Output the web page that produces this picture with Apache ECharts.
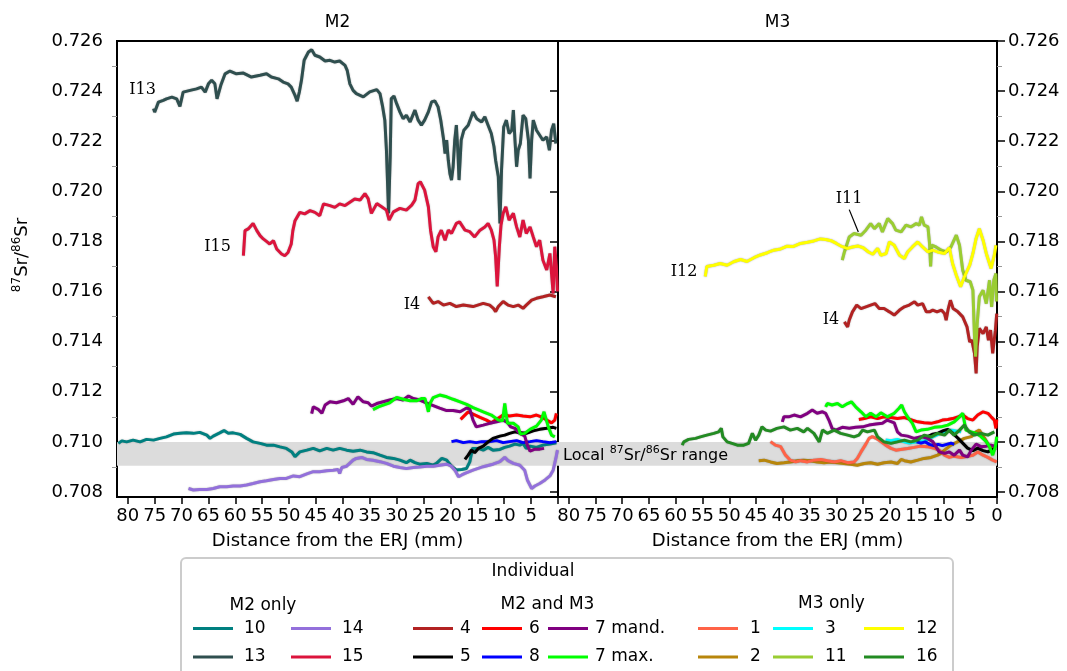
<!DOCTYPE html>
<html><head><meta charset="utf-8">
<script src="https://cdn.jsdelivr.net/npm/echarts@6/dist/echarts.min.js"></script>
<style>html,body{margin:0;padding:0;background:#fff}#c{width:1067px;height:671px}</style>
</head><body><div id="c"></div>
<script>
// ---------- tick labels ----------
const xTicks = [80,75,70,65,60,55,50,45,40,35,30,25,20,15,10,5,0];
const xLabelsM2 = [80,75,70,65,60,55,50,45,40,35,30,25,20,15,10,5];
const xLabelsM3 = [80,75,70,65,60,55,50,45,40,35,30,25,20,15,10,5,0];
const yTicks = [0.708,0.710,0.712,0.714,0.716,0.718,0.720,0.722,0.724,0.726];
const yMinorTicks = [0.709,0.711,0.713,0.715,0.717,0.719,0.721,0.723,0.725];
const localRange = [0.70905, 0.7100];

// ---------- M2 series: [distance from ERJ (mm), 87Sr/86Sr] ----------
const m2_13 = [[75.2,0.72330],[75.0,0.72316],[74.3,0.72356],[73.4,0.72363],[72.8,0.72369],[71.8,0.72376],[70.9,0.72369],[70.3,0.72339],[69.7,0.72396],[68.4,0.72403],[67.2,0.72409],[66.3,0.72416],[65.6,0.72396],[65.0,0.72429],[64.4,0.72443],[63.8,0.72429],[63.4,0.72369],[62.7,0.72423],[61.9,0.72469],[61.0,0.72480],[59.8,0.72469],[58.5,0.72472],[57.0,0.72456],[55.4,0.72463],[54.2,0.72469],[53.3,0.72456],[52.0,0.72449],[51.1,0.72436],[50.2,0.72429],[49.6,0.72416],[48.9,0.72383],[48.5,0.72360],[48.1,0.72396],[47.7,0.72443],[47.2,0.72523],[46.4,0.72556],[45.8,0.72565],[45.2,0.72543],[44.3,0.72536],[43.3,0.72520],[42.4,0.72523],[41.5,0.72516],[40.6,0.72520],[39.6,0.72503],[39.2,0.72483],[38.7,0.72429],[38.1,0.72403],[37.5,0.72390],[36.2,0.72377],[35.0,0.72397],[33.7,0.72406],[33.1,0.72390],[32.6,0.72337],[32.2,0.72284],[31.9,0.72164],[31.5,0.71912],[31.2,0.72138],[31.0,0.72370],[30.5,0.72380],[30.0,0.72350],[29.4,0.72317],[28.8,0.72290],[28.2,0.72304],[27.5,0.72277],[26.6,0.72324],[26.0,0.72284],[25.4,0.72264],[24.8,0.72284],[24.1,0.72317],[23.5,0.72357],[22.9,0.72361],[22.3,0.72337],[21.8,0.72284],[21.3,0.72211],[21.0,0.72151],[20.7,0.72204],[20.4,0.72124],[20.1,0.72071],[19.8,0.72045],[19.5,0.72098],[19.2,0.72204],[18.9,0.72264],[18.6,0.72151],[18.4,0.72045],[18.0,0.72204],[17.5,0.72244],[16.7,0.72264],[15.8,0.72317],[15.1,0.72290],[14.2,0.72277],[13.6,0.72297],[13.0,0.72264],[12.4,0.72231],[11.9,0.72178],[11.6,0.72124],[11.1,0.72058],[10.8,0.71872],[10.5,0.72085],[10.1,0.72257],[9.6,0.72284],[9.1,0.72231],[8.6,0.72244],[8.3,0.72324],[8.0,0.72204],[7.7,0.72098],[7.4,0.72164],[7.0,0.72191],[6.5,0.72304],[6.0,0.72290],[5.5,0.72204],[5.2,0.72051],[4.9,0.72204],[4.6,0.72284],[4.0,0.72244],[3.4,0.72224],[2.8,0.72204],[2.1,0.72217],[1.6,0.72164],[1.2,0.72244],[0.8,0.72270],[0.4,0.72191]];
const m2_15 = [[58.5,0.71743],[58.2,0.71843],[57.6,0.71850],[56.7,0.71872],[56.0,0.71843],[55.4,0.71823],[54.8,0.71810],[54.2,0.71800],[53.6,0.71790],[52.9,0.71803],[52.3,0.71770],[51.4,0.71750],[50.8,0.71743],[50.2,0.71756],[49.6,0.71790],[49.3,0.71843],[48.9,0.71883],[48.0,0.71916],[47.1,0.71910],[46.1,0.71923],[45.2,0.71916],[44.3,0.71903],[43.6,0.71950],[42.4,0.71943],[41.5,0.71936],[40.6,0.71950],[39.6,0.71943],[38.7,0.71956],[37.8,0.71969],[36.8,0.71965],[35.9,0.71991],[35.3,0.71971],[34.7,0.71912],[33.7,0.71951],[32.8,0.71938],[31.9,0.71925],[31.4,0.71885],[30.6,0.71918],[29.4,0.71932],[28.2,0.71925],[27.2,0.71945],[26.6,0.71965],[26.0,0.72031],[25.6,0.72038],[24.8,0.72005],[24.1,0.71938],[23.7,0.71845],[23.2,0.71779],[22.7,0.71759],[22.3,0.71818],[21.7,0.71845],[21.0,0.71805],[20.4,0.71845],[19.8,0.71832],[18.9,0.71872],[18.3,0.71878],[17.3,0.71845],[16.4,0.71839],[15.5,0.71818],[14.5,0.71845],[13.6,0.71858],[13.0,0.71872],[12.4,0.71845],[11.9,0.71805],[11.6,0.71739],[11.3,0.71620],[10.9,0.71779],[10.6,0.71865],[10.2,0.71912],[9.7,0.71938],[9.1,0.71885],[8.3,0.71912],[7.7,0.71858],[7.1,0.71818],[6.5,0.71885],[5.9,0.71832],[5.2,0.71858],[4.6,0.71818],[4.0,0.71779],[3.4,0.71805],[2.8,0.71725],[2.1,0.71686],[1.5,0.71752],[1.2,0.71672],[0.9,0.71592],[0.6,0.71779],[0.3,0.71700],[0.1,0.71600]];
const m2_4 = [[24.1,0.71579],[23.2,0.71553],[22.3,0.71560],[21.3,0.71546],[20.1,0.71553],[18.9,0.71540],[17.6,0.71546],[15.8,0.71540],[13.9,0.71553],[12.7,0.71546],[12.0,0.71533],[11.6,0.71520],[11.1,0.71540],[10.2,0.71560],[9.3,0.71546],[8.3,0.71540],[7.4,0.71546],[6.5,0.71533],[5.9,0.71546],[4.9,0.71566],[4.0,0.71573],[2.8,0.71579],[1.5,0.71586],[0.4,0.71579]];
const m2_10 = [[81.75,0.70994],[81.1,0.71004],[80.2,0.71000],[79.0,0.71007],[77.7,0.71000],[76.5,0.71010],[75.2,0.71007],[74.0,0.71014],[72.8,0.71020],[71.5,0.71031],[70.3,0.71034],[69.1,0.71036],[67.8,0.71034],[66.6,0.71038],[65.3,0.71027],[64.7,0.71014],[64.1,0.71023],[62.9,0.71036],[62.1,0.71045],[61.3,0.71034],[60.4,0.71036],[59.1,0.71030],[57.9,0.71014],[56.7,0.71000],[55.4,0.70994],[54.2,0.70987],[52.9,0.70987],[51.7,0.70980],[50.5,0.70974],[49.5,0.70960],[48.9,0.70941],[48.0,0.70960],[46.7,0.70967],[45.5,0.70974],[44.3,0.70964],[43.0,0.70974],[41.8,0.70967],[40.6,0.70974],[39.3,0.70967],[38.1,0.70963],[36.8,0.70967],[35.6,0.70960],[34.4,0.70957],[33.1,0.70947],[31.9,0.70938],[30.6,0.70934],[29.4,0.70927],[28.2,0.70917],[27.5,0.70927],[26.6,0.70917],[25.7,0.70911],[24.4,0.70914],[23.2,0.70907],[22.6,0.70914],[21.6,0.70934],[20.7,0.70927],[19.8,0.70903],[18.9,0.70888],[17.9,0.70890],[17.0,0.70894],[16.4,0.70920],[15.9,0.70974],[14.8,0.70974],[13.9,0.70967],[13.0,0.70978],[12.1,0.70967],[10.8,0.70970],[9.9,0.70978],[9.0,0.70983],[8.0,0.70991],[7.1,0.70987],[6.5,0.70994],[5.9,0.70974],[5.2,0.70983],[4.0,0.70978],[2.8,0.70987],[1.5,0.70991],[0.3,0.70996]];
const m2_14 = [[68.7,0.70814],[67.8,0.70808],[66.6,0.70810],[65.3,0.70810],[64.1,0.70814],[62.9,0.70821],[61.6,0.70821],[60.4,0.70824],[59.1,0.70824],[57.9,0.70828],[56.7,0.70834],[55.4,0.70841],[54.2,0.70845],[52.9,0.70850],[51.7,0.70854],[50.5,0.70854],[49.2,0.70864],[48.0,0.70861],[46.7,0.70872],[45.5,0.70881],[44.3,0.70881],[43.0,0.70885],[41.8,0.70887],[40.9,0.70890],[40.6,0.70874],[40.2,0.70898],[39.3,0.70903],[38.1,0.70927],[37.5,0.70934],[36.5,0.70938],[35.6,0.70930],[34.4,0.70927],[33.1,0.70921],[31.9,0.70914],[30.6,0.70903],[29.4,0.70898],[28.2,0.70894],[26.9,0.70898],[25.7,0.70900],[24.4,0.70903],[23.2,0.70903],[22.0,0.70907],[20.7,0.70911],[19.8,0.70903],[19.1,0.70885],[18.5,0.70861],[17.9,0.70868],[17.3,0.70874],[15.8,0.70887],[13.9,0.70901],[12.1,0.70911],[10.8,0.70921],[9.9,0.70938],[9.3,0.70925],[8.3,0.70914],[7.1,0.70907],[6.2,0.70887],[5.7,0.70848],[4.9,0.70814],[4.3,0.70824],[3.4,0.70834],[2.4,0.70848],[1.5,0.70864],[0.9,0.70887],[0.4,0.70934],[0.1,0.70967]];
const m2_7mand = [[45.8,0.71113],[45.5,0.71140],[44.6,0.71130],[43.9,0.71114],[43.3,0.71147],[42.4,0.71160],[41.2,0.71156],[39.9,0.71164],[39.0,0.71173],[38.1,0.71150],[37.2,0.71180],[36.2,0.71160],[35.3,0.71156],[34.7,0.71143],[33.7,0.71153],[32.5,0.71160],[31.3,0.71167],[30.0,0.71173],[28.8,0.71167],[27.8,0.71183],[26.9,0.71173],[25.7,0.71167],[24.4,0.71155],[23.2,0.71145],[22.0,0.71135],[20.7,0.71125],[19.5,0.71125],[18.2,0.71120],[17.0,0.71135],[16.4,0.71131],[15.8,0.71087],[15.2,0.71060],[13.9,0.71067],[12.7,0.71074],[11.4,0.71080],[10.2,0.71087],[9.4,0.71078],[8.8,0.71060],[8.0,0.71054],[7.1,0.71034],[6.2,0.71024],[5.7,0.70987],[5.2,0.70963],[4.3,0.70971],[3.4,0.70971],[2.6,0.70974]];
const m2_7max = [[34.4,0.71129],[33.4,0.71140],[32.5,0.71147],[31.3,0.71156],[30.0,0.71177],[28.8,0.71170],[27.5,0.71164],[26.3,0.71164],[25.4,0.71173],[24.75,0.71173],[24.4,0.71147],[24.1,0.71120],[23.8,0.71153],[23.2,0.71177],[22.0,0.71187],[20.7,0.71180],[19.5,0.71170],[18.2,0.71160],[17.0,0.71150],[15.8,0.71137],[13.9,0.71120],[12.4,0.71107],[11.1,0.71087],[10.3,0.71084],[9.9,0.71153],[9.4,0.71074],[8.3,0.71074],[7.4,0.71060],[7.0,0.71031],[6.2,0.71034],[5.2,0.71050],[4.0,0.71063],[3.1,0.71087],[2.6,0.71120],[2.3,0.71114],[1.8,0.71060],[1.2,0.71027],[0.6,0.71020]];
const m2_6 = [[18.1,0.71090],[17.5,0.71103],[16.7,0.71120],[15.8,0.71111],[14.5,0.71098],[13.3,0.71087],[12.4,0.71076],[11.4,0.71090],[10.2,0.71107],[9.0,0.71103],[7.7,0.71107],[6.5,0.71103],[5.2,0.71100],[4.0,0.71107],[3.1,0.71100],[2.1,0.71087],[1.2,0.71076],[0.6,0.71087],[0.3,0.71114]];
const m2_5 = [[17.3,0.70930],[16.7,0.70947],[16.1,0.70967],[15.5,0.70957],[14.8,0.70974],[13.9,0.70983],[13.0,0.71000],[12.1,0.71014],[10.8,0.71023],[9.9,0.71027],[9.0,0.71034],[8.0,0.71040],[7.1,0.71036],[5.9,0.71034],[4.6,0.71044],[3.4,0.71050],[2.1,0.71054],[0.9,0.71058],[0.3,0.71054]];
const m2_8 = [[19.8,0.71001],[18.9,0.71005],[17.6,0.70997],[16.4,0.71001],[15.2,0.70997],[14.2,0.71001],[12.7,0.71001],[11.4,0.71005],[10.2,0.70997],[9.0,0.71001],[7.7,0.71005],[6.5,0.70997],[5.2,0.71001],[4.0,0.71005],[2.8,0.71001],[1.5,0.70997],[0.3,0.71001]];

// ---------- M3 series ----------
const m3_12 = [[54.5,0.71660],[54.2,0.71700],[52.9,0.71705],[51.7,0.71712],[50.4,0.71705],[49.2,0.71719],[47.9,0.71728],[46.7,0.71720],[45.4,0.71735],[44.2,0.71746],[42.9,0.71755],[41.7,0.71765],[40.4,0.71770],[39.2,0.71781],[38.0,0.71780],[36.7,0.71792],[35.4,0.71797],[34.2,0.71802],[33.0,0.71810],[32.0,0.71808],[31.0,0.71803],[30.0,0.71792],[29.0,0.71780],[28.0,0.71772],[27.0,0.71778],[26.0,0.71782],[25.0,0.71775],[24.0,0.71758],[23.2,0.71749],[22.3,0.71772],[21.7,0.71745],[20.7,0.71752],[20.1,0.71798],[19.2,0.71785],[18.2,0.71745],[17.3,0.71732],[16.7,0.71758],[15.8,0.71778],[14.8,0.71798],[13.9,0.71778],[12.9,0.71758],[12.0,0.71765],[11.1,0.71758],[9.8,0.71752],[8.9,0.71775],[8.3,0.71712],[7.6,0.71665],[6.8,0.71619],[6.1,0.71659],[5.1,0.71705],[4.5,0.71752],[3.9,0.71812],[3.3,0.71851],[2.6,0.71805],[2.0,0.71752],[1.1,0.71692],[0.5,0.71745],[0.2,0.71785]];
const m3_11 = [[28.9,0.71725],[28.5,0.71758],[27.6,0.71818],[26.7,0.71832],[25.4,0.71825],[24.5,0.71845],[23.6,0.71871],[22.9,0.71851],[22.0,0.71871],[21.4,0.71838],[20.4,0.71891],[19.5,0.71871],[18.9,0.71845],[17.9,0.71838],[17.0,0.71865],[16.1,0.71858],[15.1,0.71871],[14.5,0.71865],[14.1,0.71898],[13.6,0.71865],[12.9,0.71858],[12.6,0.71792],[12.4,0.71700],[12.2,0.71785],[11.4,0.71778],[10.4,0.71765],[9.5,0.71758],[8.6,0.71778],[7.6,0.71825],[7.0,0.71785],[6.4,0.71685],[5.8,0.71645],[5.0,0.71639],[4.5,0.71605],[4.2,0.71419],[4.0,0.71340],[3.7,0.71472],[3.3,0.71579],[2.6,0.71605],[2.0,0.71552],[1.4,0.71645],[1.0,0.71539],[0.6,0.71645],[0.2,0.71672],[0.1,0.71560]];
const m3_4 = [[28.5,0.71479],[27.9,0.71459],[27.6,0.71486],[27.0,0.71519],[26.2,0.71546],[25.4,0.71532],[24.5,0.71539],[23.6,0.71546],[22.8,0.71552],[22.0,0.71532],[21.1,0.71532],[20.1,0.71519],[19.2,0.71506],[18.2,0.71526],[17.3,0.71539],[16.4,0.71546],[15.4,0.71559],[14.8,0.71546],[13.9,0.71552],[13.2,0.71519],[12.6,0.71519],[12.0,0.71526],[11.2,0.71519],[10.4,0.71526],[9.8,0.71512],[9.5,0.71486],[9.1,0.71532],[8.7,0.71565],[8.2,0.71532],[7.3,0.71519],[6.4,0.71499],[5.6,0.71459],[5.1,0.71399],[4.7,0.71406],[4.2,0.71353],[3.9,0.71273],[3.7,0.71380],[3.3,0.71453],[2.6,0.71432],[2.0,0.71459],[1.6,0.71406],[1.2,0.71446],[0.8,0.71353],[0.3,0.71446],[0.05,0.71512]];
const m3_16 = [[58.8,0.70987],[58.5,0.71000],[57.6,0.71010],[56.3,0.71014],[55.4,0.71020],[54.2,0.71027],[52.9,0.71034],[52.0,0.71040],[51.5,0.71054],[51.2,0.71020],[50.4,0.71000],[49.5,0.70994],[48.5,0.70987],[47.3,0.70987],[46.4,0.70994],[45.7,0.71034],[45.1,0.71007],[44.5,0.71027],[43.9,0.71060],[43.2,0.71047],[42.3,0.71043],[41.1,0.71054],[39.8,0.71060],[38.6,0.71047],[37.3,0.71054],[36.1,0.71040],[35.4,0.71054],[34.2,0.71034],[33.2,0.71000],[32.6,0.71047],[31.7,0.71034],[30.4,0.71047],[29.2,0.71034],[27.9,0.71027],[26.7,0.71020],[25.8,0.71027],[25.1,0.71047],[24.2,0.71040],[22.9,0.71047],[22.3,0.71020],[21.1,0.71000],[19.8,0.70994],[18.6,0.71000],[17.3,0.71007],[16.1,0.71000],[14.8,0.71007],[13.6,0.71027],[12.3,0.71020],[11.1,0.71034],[9.8,0.71027],[8.9,0.71047],[8.0,0.71027],[7.0,0.71047],[6.1,0.71067],[5.2,0.71040],[4.2,0.71027],[3.0,0.71034],[1.7,0.71027],[0.5,0.71040]];
const m3_1 = [[42.3,0.71001],[41.4,0.70987],[40.4,0.70981],[39.5,0.70947],[38.6,0.70927],[37.6,0.70920],[36.7,0.70925],[35.4,0.70920],[34.2,0.70927],[32.9,0.70930],[31.7,0.70925],[30.4,0.70920],[29.2,0.70925],[27.9,0.70917],[26.7,0.70920],[26.1,0.70934],[25.4,0.70960],[24.5,0.70991],[23.9,0.71014],[23.3,0.71021],[22.6,0.71014],[21.7,0.71001],[20.8,0.70987],[19.8,0.70974],[18.9,0.70967],[18.0,0.70970],[16.7,0.70974],[15.5,0.70978],[14.2,0.70983],[13.0,0.70981],[11.7,0.70974],[10.8,0.70967],[9.8,0.70947],[8.9,0.70938],[8.0,0.70943],[6.7,0.70938],[5.5,0.70943],[4.5,0.70947],[3.6,0.70960],[2.6,0.70947],[1.7,0.70938],[0.8,0.70927],[0.05,0.70920]];
const m3_2 = [[44.5,0.70925],[43.5,0.70927],[42.3,0.70920],[41.1,0.70914],[39.8,0.70917],[38.6,0.70920],[37.3,0.70925],[36.1,0.70927],[34.8,0.70925],[33.6,0.70920],[32.3,0.70917],[31.1,0.70920],[29.8,0.70917],[28.6,0.70914],[27.3,0.70911],[26.1,0.70907],[24.8,0.70914],[23.6,0.70917],[22.3,0.70911],[21.1,0.70917],[19.8,0.70920],[18.6,0.70914],[17.9,0.70930],[17.3,0.70925],[16.1,0.70920],[14.8,0.70927],[13.6,0.70934],[12.3,0.70938],[11.1,0.70947],[10.5,0.70954],[9.8,0.70967],[8.6,0.70987],[7.3,0.71001],[6.1,0.71014],[4.8,0.71021],[3.9,0.71040],[3.3,0.71047],[2.3,0.71014],[1.4,0.70981],[0.5,0.70967]];
const m3_3 = [[20.8,0.71008],[19.8,0.71005],[18.6,0.71010],[17.3,0.71000],[16.4,0.70995],[15.0,0.71000],[13.5,0.71005],[12.0,0.71020],[10.5,0.71035],[9.2,0.71047],[8.0,0.71045],[6.7,0.71040]];
const m3_5 = [[13.0,0.71020],[12.0,0.71031],[11.0,0.71035],[10.0,0.71045],[9.2,0.71050],[8.3,0.71035],[7.3,0.71015],[6.4,0.70995],[5.5,0.70975],[4.5,0.70965],[3.6,0.70975],[2.6,0.70965],[1.7,0.70960],[0.8,0.70970],[0.2,0.70975]];
const m3_8 = [[15.0,0.71000],[14.2,0.70995],[13.4,0.71000],[12.6,0.70990],[11.8,0.70985],[11.0,0.70990],[10.2,0.70985],[9.4,0.70990],[8.6,0.70995],[8.0,0.70990]];
const m3_6 = [[25.8,0.71089],[24.8,0.71093],[23.6,0.71100],[22.3,0.71093],[21.1,0.71100],[19.8,0.71097],[18.6,0.71093],[17.3,0.71097],[16.1,0.71089],[14.8,0.71080],[13.6,0.71076],[12.3,0.71074],[11.1,0.71080],[10.2,0.71087],[9.2,0.71089],[8.3,0.71093],[7.3,0.71100],[6.4,0.71107],[5.5,0.71093],[4.5,0.71087],[3.6,0.71107],[2.6,0.71120],[1.7,0.71114],[1.1,0.71100],[0.5,0.71087],[0.2,0.71054],[0.05,0.71090]];
const m3_7mand = [[40.1,0.71080],[39.8,0.71100],[38.9,0.71100],[37.9,0.71107],[36.7,0.71100],[35.4,0.71114],[34.5,0.71127],[33.6,0.71114],[32.6,0.71120],[32.0,0.71114],[31.4,0.71087],[30.8,0.71054],[30.1,0.71047],[28.9,0.71058],[27.6,0.71054],[26.4,0.71058],[25.1,0.71060],[23.9,0.71067],[22.6,0.71071],[21.4,0.71074],[20.5,0.71087],[19.2,0.71076],[18.6,0.71040],[17.9,0.71027],[16.7,0.71023],[15.5,0.71014],[14.2,0.71021],[13.0,0.71014],[12.0,0.71001],[11.4,0.70981],[10.8,0.70960],[9.8,0.70954],[8.9,0.70960],[8.0,0.70947],[7.0,0.70967],[6.4,0.70947],[5.5,0.70940],[4.8,0.70967],[3.9,0.70991],[3.0,0.70981],[2.0,0.70983],[1.1,0.70987],[0.1,0.70981]];
const m3_7max = [[32.0,0.71140],[31.7,0.71153],[30.8,0.71147],[29.8,0.71153],[28.9,0.71140],[27.9,0.71153],[27.2,0.71160],[26.4,0.71140],[25.4,0.71120],[24.5,0.71100],[23.6,0.71114],[22.6,0.71100],[21.7,0.71116],[20.5,0.71100],[19.2,0.71114],[18.3,0.71134],[17.8,0.71147],[17.3,0.71120],[16.7,0.71100],[15.8,0.71074],[15.1,0.71040],[14.2,0.71047],[13.0,0.71050],[11.7,0.71058],[10.5,0.71060],[9.2,0.71067],[8.0,0.71080],[7.0,0.71100],[6.4,0.71114],[5.8,0.71047],[4.8,0.71040],[3.9,0.71034],[3.0,0.71021],[2.0,0.71001],[1.4,0.70981],[0.8,0.70947],[0.3,0.70981],[0.05,0.71021]];

// ---------- annotations [text, distance, ratio] ----------
const annotM2 = [['I13',77.26,0.72406],['I15',63.31,0.71777],['I4',27.15,0.71546]];
const annotM3 = [['I11',27.65,0.71969],['I4',31.0,0.71486],['I12',58.47,0.71677]];
const pointerI11 = [[27.6,0.71927],[25.9,0.71838]];
const localLabelPos = [81.05, 0.70951];

// ---------- legend groups ----------
const legM2only = [['10','13'],['14','15']];
const legBoth = [['4','5'],['6','8'],['7 mand.','7 max.']];
const legM3only = [['1','2'],['3','11'],['12','16']];

const colors = {'10':'#008080','13':'#2f4f4f','14':'#9370db','15':'#dc143c','4':'#b22222','5':'#000000','6':'#ff0000','8':'#0000ff','7 mand.':'#800080','7 max.':'#00ff00','1':'#ff6347','2':'#b8860b','3':'#00ffff','11':'#9acd32','12':'#ffff00','16':'#228b22'};

const FONT = 'DejaVu Sans';
const chart = echarts.init(document.getElementById('c'), null, {renderer:'canvas'});

function line(name, data, panel, z){
  return {
    type:'line', name, data, xAxisIndex: panel, yAxisIndex: panel*2,
    showSymbol:false, symbol:'none', smooth:false, z: z, animation:false,
    itemStyle:{color:colors[name]},
    lineStyle:{color:colors[name], width:3, shadowColor:'rgba(0,0,0,0.35)', shadowBlur:1.5},
    emphasis:{disabled:true}
  };
}
function band(panel){
  return {type:'line', name:'_band'+panel, xAxisIndex:panel, yAxisIndex:panel*2, z:1, silent:true,
    data:[[0,localRange[0]],[82,localRange[0]]], symbol:'none', lineStyle:{opacity:0},
    markArea:{silent:true, itemStyle:{color:'#dcdcdc'}, data:[[{coord:[82,localRange[0]]},{coord:[0,localRange[1]]}]]}};
}

const series = [
  band(0), band(1),
  line('10', m2_10, 0, 3), line('13', m2_13, 0, 3), line('14', m2_14, 0, 3), line('15', m2_15, 0, 3),
  line('4', m2_4, 0, 3), line('6', m2_6, 0, 3), line('8', m2_8, 0, 3), line('5', m2_5, 0, 3),
  line('7 mand.', m2_7mand, 0, 3), line('7 max.', m2_7max, 0, 3),
  line('4', m3_4, 1, 3), line('2', m3_2, 1, 3), line('1', m3_1, 1, 3), line('3', m3_3, 1, 3),
  line('6', m3_6, 1, 3), line('8', m3_8, 1, 3), line('5', m3_5, 1, 3),
  line('7 mand.', m3_7mand, 1, 3), line('7 max.', m3_7max, 1, 3),
  line('11', m3_11, 1, 3), line('12', m3_12, 1, 3), line('16', m3_16, 1, 3)
];

function xAxis(panel, labels){
  return {gridIndex:panel, type:'value', min:0, max:82, inverse:true,
    axisLine:{show:false}, splitLine:{show:false},
    axisTick:{show:true, customValues:xTicks, length:7, lineStyle:{color:'#000', width:1.5}},
    axisLabel:{customValues:labels, fontSize:18, margin:10, color:'#000', fontFamily:FONT},
    name:'Distance from the ERJ (mm)', nameLocation:'middle', nameGap:35,
    nameTextStyle:{fontSize:18, color:'#000', fontFamily:FONT}};
}
function yAxis(panel, pos){
  return [{gridIndex:panel, type:'value', min:0.7078, max:0.7260, position:pos,
    axisLine:{show:false}, splitLine:{show:false},
    axisTick:{show:true, customValues:yTicks, length:8, lineStyle:{color:'#000', width:1.5}},
    axisLabel:{customValues:yTicks, formatter:v=>v.toFixed(3), fontSize:18, margin:pos==='left'?14:11, color:'#000', fontFamily:FONT}},
   {gridIndex:panel, type:'value', min:0.7078, max:0.7260, position:pos,
    axisLine:{show:false}, splitLine:{show:false},
    axisTick:{show:true, customValues:yMinorTicks, length:5, lineStyle:{color:'#999', width:1}},
    axisLabel:{show:false}}];
}

const legends = [];
function addLegendCols(cols, lefts, padLeft){
  cols.forEach((names,i)=>{
    legends.push({orient:'vertical', left:lefts[i], top:619.5, padding:0, itemGap:10.5,
      itemWidth:40, itemHeight:3, icon:'rect', selectedMode:false, data:names,
      textStyle:{fontSize:17, color:'#000', fontFamily:FONT, lineHeight:18, padding:[0,0,0,padLeft]}});
  });
}
addLegendCols(legM2only, [193, 291], 6);
addLegendCols(legBoth, [413, 482, 548], 2);
addLegendCols(legM3only, [698, 773, 864], 7);

chart.setOption({
  animation:false,
  backgroundColor:'#fff',
  grid:[
    {left:117, top:41, width:441, height:456, show:true, borderColor:'#000', borderWidth:2, backgroundColor:'transparent'},
    {left:558, top:41, width:439, height:456, show:true, borderColor:'#000', borderWidth:2, backgroundColor:'transparent'}
  ],
  xAxis:[xAxis(0, xLabelsM2), xAxis(1, xLabelsM3)],
  yAxis:[...yAxis(0,'left'), ...yAxis(1,'right')],
  legend: legends,
  series
});

// graphics (static + data-anchored annotations)
const g = [];
g.push({type:'rect', z:0, shape:{x:181, y:558, width:772, height:125, r:5}, style:{fill:'#fff', stroke:'#cccccc', lineWidth:2}});
function txt(t, x, y, size, opts, family){
  return Object.assign({type:'text', z:10, x, y, style:{text:t, fontSize:size, fontFamily:family||FONT, fill:'#000',
    align:'center', verticalAlign:'middle', textAlign:'center', textVerticalAlign:'middle'}}, opts||{});
}
g.push(txt('Individual', 533, 572, 17));
g.push(txt('M2 only', 263, 606, 17));
g.push(txt('M2 and M3', 547.5, 605, 17));
g.push(txt('M3 only', 831.5, 603.5, 17));
g.push(txt('M2', 337.5, 23, 17));
g.push(txt('M3', 777.5, 23, 17));
const supRich = (n, s) => ({
  n:{fontSize:n, fontFamily:FONT, fill:'#000', color:'#000', lineHeight:n+3, verticalAlign:'bottom'},
  s:{fontSize:s, fontFamily:FONT, fill:'#000', color:'#000', lineHeight:n+3, verticalAlign:'top'}
});
g.push({type:'text', z:10, x:21, y:255, rotation:Math.PI/2,
  style:{text:'{s|87}{n|Sr/}{s|86}{n|Sr}', rich:supRich(18,12), align:'center', verticalAlign:'middle', textAlign:'center', textVerticalAlign:'middle'}});

function px(panel, pt){ return chart.convertToPixel({xAxisIndex:panel, yAxisIndex:panel*2}, pt); }
annotM2.forEach(a=>{ const p = px(0,[a[1],a[2]]); g.push(txt(a[0], p[0], p[1], 16, null, 'DejaVu Serif')); });
annotM3.forEach(a=>{ const p = px(1,[a[1],a[2]]); g.push(txt(a[0], p[0], p[1], 16, null, 'DejaVu Serif')); });
const p1 = px(1, pointerI11[0]), p2 = px(1, pointerI11[1]);
g.push({type:'line', z:10, shape:{x1:p1[0], y1:p1[1], x2:p2[0], y2:p2[1]}, style:{stroke:'#000', lineWidth:1.2}});
const lp = px(1, localLabelPos);
g.push({type:'text', z:10, x:lp[0], y:lp[1],
  style:{text:'{n|Local }{s|87}{n|Sr/}{s|86}{n|Sr range}', rich:supRich(16,11), align:'left', verticalAlign:'middle', textAlign:'left', textVerticalAlign:'middle'}});

chart.setOption({graphic:{elements:g}});
</script>
</body></html>
